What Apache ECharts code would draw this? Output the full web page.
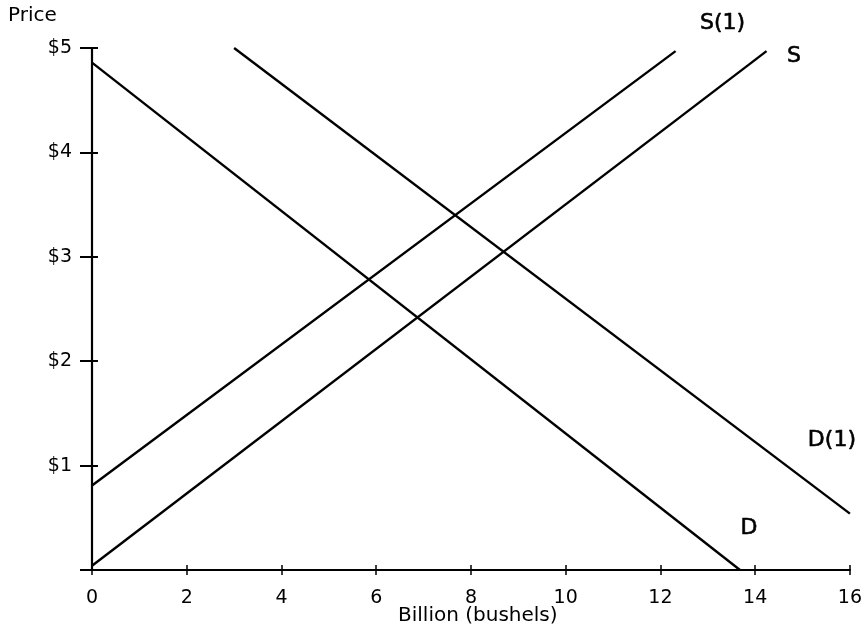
<!DOCTYPE html>
<html>
<head>
<meta charset="utf-8">
<script src="https://cdn.jsdelivr.net/npm/echarts@6/dist/echarts.min.js"></script>
<style>
  html, body { margin: 0; padding: 0; background: #fff; }
  #chart { width: 865px; height: 636px; }
</style>
</head>
<body>
<div id="chart"></div>
<script>
// Wheat market: supply and demand shifts (quantity in billion bushels, price in $)
const xTicks = [0, 2, 4, 6, 8, 10, 12, 14, 16];
const yTickLabels = ['', '$1', '$2', '$3', '$4', '$5'];

// Each curve given by its two end points [quantity, price]
const demand   = [[0, 4.86], [13.68, 0]];
const demand1  = [[3.0, 5.0], [16.0, 0.54]];
const supply   = [[0, 0.04], [14.24, 4.97]];
const supply1  = [[0, 0.81], [12.32, 4.97]];

const curveNames = ['D', 'D(1)', 'S', 'S(1)'];
// Where each curve's name is written, in data units
const labelAnchors = [[13.87, 0.40], [15.62, 1.24], [14.82, 4.92], [13.31, 5.24]];

const FONT = '"DejaVu Sans", Verdana, sans-serif';

const chart = echarts.init(document.getElementById('chart'), null, { renderer: 'canvas' });

const lineStyle = { color: '#000', width: 2.4 };
function curve(name, pts) {
  return {
    name, type: 'line', data: pts, symbol: 'none',
    lineStyle, silent: true, animation: false, z: 3
  };
}

chart.setOption({
  backgroundColor: '#fff',
  animation: false,
  grid: { left: 92, right: 13, top: 48, bottom: 66, containLabel: false },
  xAxis: [
    {
      type: 'value', min: 0, max: 16, interval: 2,
      axisLine: { lineStyle: { color: '#000', width: 2.2 } },
      axisTick: { show: true, inside: false, length: 5, lineStyle: { color: '#000', width: 1.5 } },
      axisLabel: {
        color: '#000', fontFamily: FONT, fontSize: 19, margin: 19,
        formatter: v => (xTicks.includes(v) ? String(v) : '')
      },
      splitLine: { show: false }
    },
    {
      type: 'value', min: 0, max: 16, interval: 2, position: 'bottom',
      axisLine: { show: false },
      axisTick: { show: true, inside: true, length: 5, lineStyle: { color: '#000', width: 1.5 } },
      axisLabel: { show: false },
      splitLine: { show: false }
    }
  ],
  yAxis: [
    {
      type: 'value', min: 0, max: 5, interval: 1,
      axisLine: { show: true, lineStyle: { color: '#000', width: 2.2 } },
      axisTick: { show: true, inside: false, length: 12, lineStyle: { color: '#000', width: 2 } },
      axisLabel: {
        color: '#000', fontFamily: FONT, fontSize: 19, margin: 20,
        formatter: v => yTickLabels[v]
      },
      splitLine: { show: false }
    },
    {
      type: 'value', min: 0, max: 5, interval: 1, position: 'left',
      axisLine: { show: false },
      axisTick: { show: true, inside: true, length: 6, lineStyle: { color: '#000', width: 2 } },
      axisLabel: { show: false },
      splitLine: { show: false }
    }
  ],
  graphic: [
    { type: 'text', left: 8, top: 6,
      style: { text: 'Price', fill: '#000', font: '20px ' + FONT } },
    { type: 'text', left: 398, top: 606,
      style: { text: 'Billion (bushels)', fill: '#000', font: '20px ' + FONT } }
  ],
  series: [
    curve('D', demand),
    curve('D(1)', demand1),
    curve('S', supply),
    curve('S(1)', supply1),
    {
      name: 'curve labels', type: 'scatter', symbolSize: 0, silent: true, clip: false,
      itemStyle: { opacity: 1 },
      data: labelAnchors.map((p, i) => ({ value: p, name: curveNames[i] })),
      label: {
        show: true, position: 'inside', formatter: p => p.name, opacity: 1,
        color: '#000', fontSize: 22, fontFamily: FONT,
        textBorderColor: '#000', textBorderWidth: 0.6
      },
      z: 4
    }
  ]
});
</script>
</body>
</html>
